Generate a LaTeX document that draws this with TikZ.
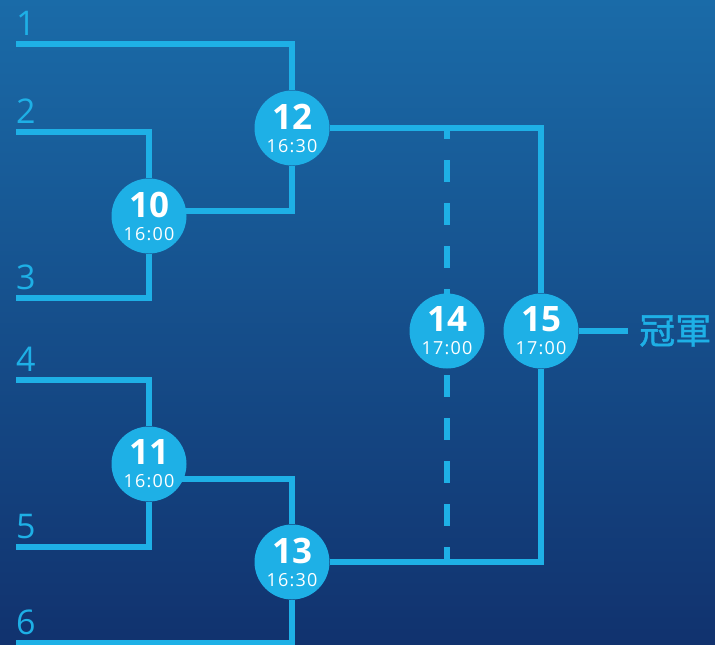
\documentclass[tikz,border=0pt]{standalone}
\usepackage{fontspec}
\setmainfont{Open Sans}
\newfontfamily\cjk[FakeBold=1.2]{Noto Sans CJK TC}
\newfontfamily\timefont[LetterSpace=7]{Open Sans}
\definecolor{bracket}{RGB}{30,176,230}
\definecolor{bgtop}{RGB}{26,107,168}
\definecolor{bgbottom}{RGB}{17,50,110}
\pgfdeclarelayer{bg}
\pgfdeclarelayer{lines}
\pgfsetlayers{bg,lines,main}
\tikzset{
  link/.style={draw=bracket, line width=5.5pt},
  match/.style={circle, fill=bracket, minimum size=75pt, inner sep=0pt,
    text=white, align=center, font=\timefont\fontsize{18}{23}\selectfont},
  team/.style={anchor=south west, inner xsep=0pt, inner ysep=8pt,
    text depth=0pt, text=bracket, font=\fontsize{34}{34}\selectfont},
}
\newcommand\mno[1]{{\normalfont\fontsize{35}{23}\selectfont\bfseries #1}}

\begin{document}
\begin{tikzpicture}[x=1pt,y=-1pt]
\begin{pgfonlayer}{bg}
\shade[top color=bgtop, bottom color=bgbottom](0,0) rectangle (715,645);
\end{pgfonlayer}
\useasboundingbox (0,0) rectangle (715,645);

% teams
\node[team] (t1) at (16,44) {1};
\node[team] (t2) at (16,132) {2};
\node[team] (t3) at (16,298) {3};
\node[team] (t4) at (16,380) {4};
\node[team] (t5) at (16,547) {5};
\node[team] (t6) at (16,643) {6};

% matches
\node[match] (m10) at (149,216) {\mno{10}\\16:00};
\node[match] (m11) at (149,464) {\mno{11}\\16:00};
\node[match] (m12) at (292,128) {\mno{12}\\16:30};
\node[match] (m13) at (292,562) {\mno{13}\\16:30};
\node[match] (m14) at (447,331) {\mno{14}\\17:00};
\node[match] (m15) at (541,331) {\mno{15}\\17:00};
\node[anchor=west, inner xsep=11pt, inner ysep=0pt, text=bracket,
  font=\cjk\fontsize{36}{36}\selectfont] (champ) at (628,331) {冠軍};

\begin{pgfonlayer}{lines}
\draw[link](t1.south west) -| (m12);
\draw[link](t2.south west) -| (m10);
\draw[link](t3.south west) -| (m10);
\draw[link](t4.south west) -| (m11);
\draw[link](t5.south west) -| (m11);
\draw[link](t6.south west) -| (m13);
\draw[link](m12) |- ([yshift=5pt]m10.center);
\draw[link]([yshift=-15pt]m11.center) -| (m13);
\draw[link](m12) -| (m15);
\draw[link](m13) -| (m15);
\draw[link](m15) -- (champ.west);
\draw[link, dash pattern=on 22pt off 21pt, dash phase=11pt](m12 -| m14) -- (m13 -| m14);
\end{pgfonlayer}
\end{tikzpicture}
\end{document}
